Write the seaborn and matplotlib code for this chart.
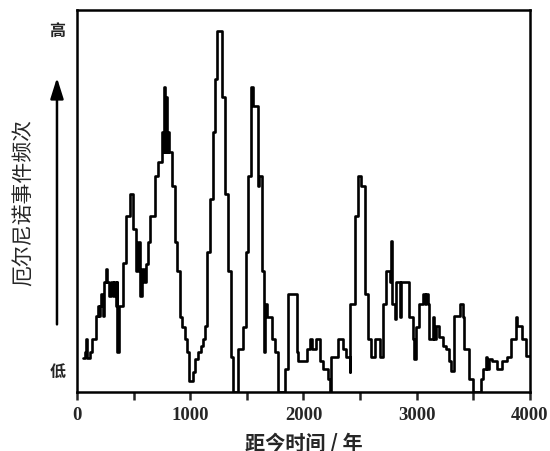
import matplotlib
matplotlib.use("Agg")
import matplotlib.pyplot as plt
import seaborn as sns
import pandas as pd
import numpy as np

# step series (years BP, relative frequency)
years = [50, 70, 78, 84, 112, 135, 165, 182, 194, 205, 215, 228, 241, 258, 264, 285,
         300, 315, 325, 345, 350, 356, 368, 410, 435, 465, 495, 518, 540, 555, 575, 590,
         605, 625, 645, 685, 718, 748, 760, 768, 778, 790, 798, 806, 815, 836, 865, 886,
         909, 930, 955, 975, 990, 1023, 1043, 1072, 1093, 1111, 1131, 1152, 1174, 1198,
         1219, 1233, 1282, 1307, 1336, 1357, 1375, 1425, 1463, 1489, 1513, 1536, 1557,
         1595, 1605, 1630, 1650, 1656, 1680, 1718, 1747, 1771, 1841, 1860, 1940, 1955,
         2030, 2061, 2079, 2114, 2149, 2173, 2220, 2231, 2245, 2305, 2349, 2378, 2408,
         2415, 2452, 2481, 2510, 2540, 2569, 2598, 2628, 2672, 2701, 2730, 2760, 2775,
         2782, 2810, 2819, 2848, 2862, 2921, 2936, 2965, 2975, 2995, 3024, 3053, 3070,
         3083, 3100, 3112, 3141, 3150, 3171, 3200, 3229, 3259, 3288, 3303, 3332, 3382,
         3405, 3420, 3464, 3493, 3567, 3581, 3610, 3620, 3640, 3669, 3713, 3757, 3801,
         3831, 3875, 3889, 3933, 3968, 4000]
freq = [3.4, 4.0, 5.3, 3.4, 4.0, 5.3, 7.6, 8.6, 7.6, 8.6, 9.8, 7.6, 11.0, 12.3, 11.0, 9.6,
        11.0, 9.6, 11.0, 8.6, 11.0, 4.0, 8.6, 12.9, 17.6, 19.8, 16.3, 12.1, 15.0, 9.6, 12.3, 11.0,
        12.8, 15.0, 17.6, 21.6, 23.0, 26.0, 24.0, 30.5, 24.0, 29.5, 24.0, 26.0, 24.0, 20.6, 15.0, 12.1,
        7.5, 6.5, 5.3, 4.0, 1.1, 2.0, 3.3, 4.0, 4.6, 5.3, 6.6, 14.0, 19.3, 26.0,
        31.3, 36.1, 29.5, 19.8, 12.1, 3.5, 0.0, 4.3, 6.5, 14.0, 21.6, 30.5, 28.6,
        20.6, 21.6, 12.1, 4.0, 8.8, 7.5, 5.3, 4.0, 0.0, 2.3, 9.8, 4.0, 3.1,
        4.3, 5.3, 4.3, 5.3, 3.1, 2.3, 1.3, 0.0, 3.5, 5.3, 4.3, 3.5, 2.0,
        8.8, 17.6, 21.6, 20.6, 9.8, 5.3, 3.5, 5.3, 3.5, 8.8, 12.1, 11.0, 15.1,
        8.8, 7.3, 11.0, 7.5, 11.0, 11.0, 7.5, 5.3, 3.3, 6.5, 8.8, 9.8, 8.8,
        9.8, 8.8, 5.3, 7.5, 5.3, 6.6, 5.5, 4.6, 4.3, 3.1, 2.1, 7.6, 8.8,
        7.5, 4.3, 1.3, 0.0, 1.3, 2.3, 3.5, 2.3, 3.3, 3.1, 2.3, 3.1, 3.5,
        5.3, 7.5, 6.6, 5.3, 3.6, 3.6]

df = pd.DataFrame({"year": years, "freq": freq})

sns.set_style("white")
plt.rcParams["font.family"] = ["Noto Sans CJK SC", "DejaVu Sans"]

fig = plt.figure(figsize=(5.5, 4.52), dpi=100)
ax = fig.add_axes([0.14, 0.1305, 0.8236, 0.8452])

sns.lineplot(data=df, x="year", y="freq", drawstyle="steps-post", estimator=None,
             color="black", linewidth=1.9, ax=ax)

ax.set_xlim(0, 4000)
ax.set_ylim(0, 38.2)
ax.set_xticks([0, 1000, 2000, 3000, 4000])
ax.set_xticks(np.arange(500, 4000, 1000), minor=True)
ax.set_yticks([])
ax.tick_params(axis="x", which="both", direction="out", length=6, width=1.8,
               bottom=True, pad=4)
for lab in ax.get_xticklabels():
    lab.set_fontfamily("Liberation Serif")
    lab.set_fontweight("bold")
    lab.set_fontsize(13.5)
for s in ax.spines.values():
    s.set_linewidth(1.8)
    s.set_color("black")

ax.set_xlabel("距今时间 / 年", fontsize=14.5, fontweight="bold", labelpad=6)
ax.set_ylabel("")

fig.text(0.0436, 0.551, "厄尔尼诺事件频次", rotation=90, fontsize=15,
         fontweight="medium", ha="center", va="center")
fig.text(0.104, 0.931, "高", fontsize=11.5, fontweight="bold", ha="center", va="center")
fig.text(0.104, 0.177, "低", fontsize=11.5, fontweight="bold", ha="center", va="center")
fig.add_artist(matplotlib.patches.FancyArrowPatch(
    (0.1036, 0.274), (0.1036, 0.832), transform=fig.transFigure,
    arrowstyle="-|>,head_length=0.7,head_width=0.22", mutation_scale=18,
    color="black", linewidth=1.8))

fig.savefig("out.png", dpi=100)
